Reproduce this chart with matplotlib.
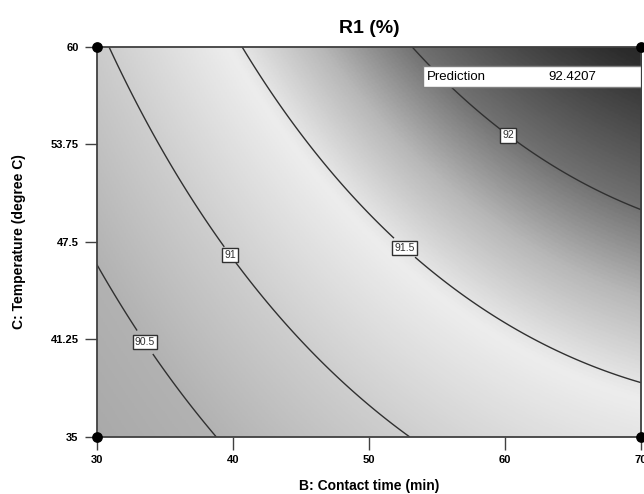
import numpy as np
import matplotlib
matplotlib.use("Agg")
import matplotlib.pyplot as plt
from matplotlib.colors import LinearSegmentedColormap
from matplotlib.patches import Rectangle

plt.rcParams['font.family'] = ['Liberation Sans', 'DejaVu Sans']

# points: contact time B, temperature C, level
pts_b = [30.0, 33.6, 38.9, 30.9, 37.8, 40.0, 45.4, 52.9,
         40.85, 50.0, 53.1, 53.4, 70.0, 53.1, 55.8, 60.4, 62.4, 70.0]
pts_c = [45.96, 41.1, 35.0, 60.0, 48.9, 46.8, 40.6, 35.0,
         60.0, 48.9, 47.6, 46.2, 38.5, 60.0, 57.4, 54.5, 52.9, 49.55]
pts_r = [90.5, 90.5, 90.5, 91.0, 91.0, 91.0, 91.0, 91.0,
         91.5, 91.5, 91.5, 91.5, 91.5, 92.0, 92.0, 92.0, 92.0, 92.0]

levels = [90.5, 91.0, 91.5, 92.0]
label_b = [33.6, 40.0, 53.1, 60.4]
label_c = [41.1, 46.8, 47.6, 54.5]

# grey shade at some response values
shade_r = [89.7, 90.5, 91.0, 91.45, 91.75, 92.0, 92.4, 92.9]
shade_g = [0.63, 0.70, 0.81, 0.93, 0.72, 0.45, 0.17, 0.10]

xticks = [30, 40, 50, 60, 70]
yticks = [35, 41.25, 47.5, 53.75, 60]
ytick_labels = ["35", "41.25", "47.5", "53.75", "60"]

# quadratic response surface fitted to the read contour points
b = (np.array(pts_b) - 50) / 20
c = (np.array(pts_c) - 47.5) / 12.5
X = np.column_stack([np.ones_like(b), b, c, b * c, b ** 2, c ** 2])
coef, *_ = np.linalg.lstsq(X, np.array(pts_r), rcond=None)


def model(B, C):
    u = (B - 50) / 20
    v = (C - 47.5) / 12.5
    return (coef[0] + coef[1] * u + coef[2] * v + coef[3] * u * v
            + coef[4] * u ** 2 + coef[5] * v ** 2)


gb, gc = np.meshgrid(np.linspace(30, 70, 300), np.linspace(35, 60, 300))
gr = model(gb, gc)

vmin, vmax = shade_r[0], shade_r[-1]
nodes = [((r - vmin) / (vmax - vmin), (g, g, g)) for r, g in zip(shade_r, shade_g)]
cmap = LinearSegmentedColormap.from_list("greys_de", nodes)

fig = plt.figure(figsize=(6.44, 4.94), dpi=100)
ax = fig.add_axes([0.150, 0.1154, 0.8455, 0.7895])

ax.imshow(gr, extent=[30, 70, 35, 60], origin="lower", aspect="auto",
          cmap=cmap, vmin=vmin, vmax=vmax, interpolation="bilinear")
cs = ax.contour(gb, gc, gr, levels=levels, colors="#303030", linewidths=1.0)
labels = ax.clabel(cs, fmt=lambda v: f"{v:g}", fontsize=7.5, inline=True,
                   inline_spacing=4, manual=list(zip(label_b, label_c)))
for t in labels:
    t.set_rotation(0)
    t.set_bbox(dict(boxstyle="square,pad=0.2", fc="white", ec="#303030", lw=1.0))

ax.set_xlim(30, 70)
ax.set_ylim(35, 60)
ax.set_xticks(xticks)
ax.set_xticklabels([str(v) for v in xticks], fontsize=8, fontweight="bold")
ax.set_yticks(yticks)
ax.set_yticklabels(ytick_labels, fontsize=8, fontweight="bold")
ax.tick_params(direction="out", length=9, width=1.0, color="#404040", pad=4)
for s in ax.spines.values():
    s.set_color("#404040")
    s.set_linewidth(1.3)

ax.scatter([30, 30, 70, 70], [35, 60, 35, 60], s=45, color="black",
           zorder=5, clip_on=False)

ax.add_patch(Rectangle((0.600, 0.897), 0.40, 0.054, transform=ax.transAxes,
                       fc="white", ec="#808080", lw=1.0, zorder=6))
ax.text(0.607, 0.924, "Prediction", transform=ax.transAxes, fontsize=9.5,
        va="center", ha="left", zorder=7)
ax.text(0.83, 0.924, "92.4207", transform=ax.transAxes, fontsize=9.5,
        va="center", ha="left", zorder=7)

ax.set_title("R1 (%)", fontsize=14, fontweight="bold", pad=10)
ax.set_xlabel("B: Contact time (min)", fontsize=10, fontweight="bold", labelpad=10)
ax.set_ylabel("C: Temperature (degree C)", fontsize=10, fontweight="bold", labelpad=18)

fig.savefig("out.png", dpi=100)
